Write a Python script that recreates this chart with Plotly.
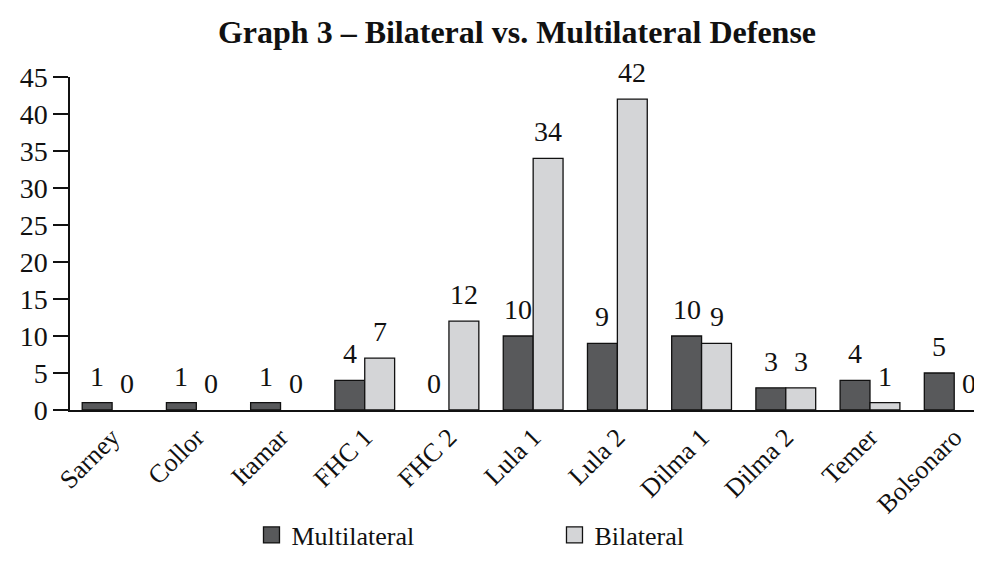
import plotly.graph_objects as go

categories = ["Sarney", "Collor", "Itamar", "FHC 1", "FHC 2", "Lula 1", "Lula 2",
              "Dilma 1", "Dilma 2", "Temer", "Bolsonaro"]
multilateral = [1, 1, 1, 4, 0, 10, 9, 10, 3, 4, 5]
bilateral = [0, 0, 0, 7, 12, 34, 42, 9, 3, 1, 0]
y_ticks = [0, 5, 10, 15, 20, 25, 30, 35, 40, 45]

FONT = "Liberation Serif"
INK = "#111111"

fig = go.Figure()
series = [("Multilateral", multilateral, "#58595b", -15),
          ("Bilateral", bilateral, "#d4d5d7", 15)]
for name, vals, color, shift in series:
    fig.add_trace(go.Bar(
        x=categories, y=vals, name=name, showlegend=False,
        marker=dict(color=color,
                    line=dict(color=INK, width=[1.3 if v > 0 else 0 for v in vals])),
        cliponaxis=False,
    ))
    # legend swatch
    fig.add_trace(go.Scatter(
        x=[None], y=[None], mode="markers", name=name, showlegend=True,
        marker=dict(symbol="square", size=16, color=color,
                    line=dict(color=INK, width=1.3)),
    ))
    for c, v in zip(categories, vals):
        fig.add_annotation(x=c, y=v, text=str(v), showarrow=False,
                           xshift=shift, yshift=9, yanchor="bottom",
                           font=dict(family=FONT, size=28, color=INK))

fig.update_layout(
    width=974, height=561,
    margin=dict(l=62, r=0, t=69, b=159, autoexpand=False),
    paper_bgcolor="white", plot_bgcolor="white",
    barmode="group", bargap=0.29, bargroupgap=0,
    font=dict(family=FONT, size=26, color=INK),
    title=dict(text="<b>Graph 3 – Bilateral vs. Multilateral Defense</b>",
               x=509 / 974, xanchor="center", y=1 - 24 / 561, yanchor="middle",
               font=dict(family=FONT, size=32, color=INK)),
    showlegend=True,
    legend=dict(orientation="h", x=0.199, xanchor="left", y=-0.305, yanchor="top",
                entrywidth=258, entrywidthmode="pixels", bgcolor="rgba(0,0,0,0)",
                itemsizing="trace",
                font=dict(family=FONT, size=26, color=INK)),
    xaxis=dict(range=[-0.5, 10.33], showline=True, linecolor=INK, linewidth=1.5,
               ticks="", tickangle=-45, showgrid=False, zeroline=False,
               automargin=False,
               tickfont=dict(family=FONT, size=26, color=INK)),
    yaxis=dict(range=[0, 45], tickvals=y_ticks, showline=True, linecolor=INK,
               linewidth=1.5, ticks="outside", ticklen=15, tickcolor=INK,
               tickwidth=1.5, showgrid=False, zeroline=False, automargin=False,
               tickfont=dict(family=FONT, size=28, color=INK)),
)

fig.write_html("out.html")
